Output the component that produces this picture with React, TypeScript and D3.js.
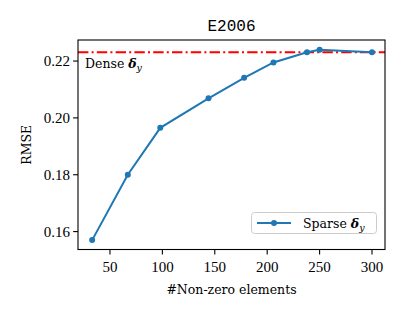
import * as d3 from "d3";

const sparseX = [33, 67, 98, 144, 178, 206, 238, 250, 300];
const sparseY = [0.157, 0.18, 0.1965, 0.2069, 0.2141, 0.2195, 0.2231, 0.224, 0.2231];
const denseY = 0.2231;
const xTicks = [50, 100, 150, 200, 250, 300];
const yTicks = [0.16, 0.18, 0.2, 0.22];

const W = 407;
const H = 314;
const margin = { top: 40, right: 22, bottom: 64.5, left: 78 };
const tickFont = "'Liberation Serif', serif";
const font = "'DejaVu Serif', serif";
const blue = "#1f77b4";

export default function App() {
  const x = d3.scaleLinear().domain([19.5, 312.4]).range([margin.left, W - margin.right]);
  const y = d3.scaleLinear().domain([0.1537, 0.2274]).range([H - margin.bottom, margin.top]);
  const pts = sparseX.map((v, i) => [v, sparseY[i]] as [number, number]);
  const line = d3.line<[number, number]>().x((d) => x(d[0])).y((d) => y(d[1]));
  const x0 = margin.left;
  const x1 = W - margin.right;
  const y0 = H - margin.bottom;
  const y1 = margin.top;

  return (
    <svg width={W} height={H} style={{ position: "absolute", left: 0, top: 0 }}>
      <rect width={W} height={H} fill="#fff" />
      <text x={(x0 + x1) / 2} y={31} textAnchor="middle" fontFamily="'Liberation Mono', monospace" fontSize={16}>
        E2006
      </text>
      {/* dense reference line */}
      <line x1={x0} x2={x1} y1={y(denseY)} y2={y(denseY)} stroke="#ff0000" strokeWidth={2} strokeDasharray="10.4,3.2,2,3.2" />
      <path d={line(pts) ?? ""} fill="none" stroke={blue} strokeWidth={2} />
      {pts.map((d, i) => (
        <circle key={i} cx={x(d[0])} cy={y(d[1])} r={3} fill={blue} />
      ))}
      <text x={85} y={68} fontFamily={font} fontSize={12.5}>
        Dense <tspan fontWeight="bold" fontStyle="italic">δ</tspan>
        <tspan fontStyle="italic" fontSize={9.5} dy={3}>y</tspan>
      </text>
      {/* frame */}
      <rect x={x0} y={y1} width={x1 - x0} height={y0 - y1} fill="none" stroke="#000" strokeWidth={1.1} />
      {xTicks.map((t) => (
        <g key={t}>
          <line x1={x(t)} x2={x(t)} y1={y0} y2={y0 + 4.9} stroke="#000" strokeWidth={1.1} />
          <text x={x(t)} y={y0 + 22} textAnchor="middle" fontFamily={tickFont} fontSize={15}>
            {t}
          </text>
        </g>
      ))}
      {yTicks.map((t) => (
        <g key={t}>
          <line x1={x0} x2={x0 - 4.9} y1={y(t)} y2={y(t)} stroke="#000" strokeWidth={1.1} />
          <text x={x0 - 8} y={y(t) + 5} textAnchor="end" fontFamily={tickFont} fontSize={15}>
            {t.toFixed(2)}
          </text>
        </g>
      ))}
      <text x={(x0 + x1) / 2} y={294} textAnchor="middle" fontFamily={font} fontSize={12.5}>
        #Non-zero elements
      </text>
      <text transform={`translate(31,${(y0 + y1) / 2}) rotate(-90)`} textAnchor="middle" fontFamily={font} fontSize={12.5}>
        RMSE
      </text>
      {/* legend */}
      <rect x={251.5} y={212.5} width={125} height={21} rx={3} fill="#fff" fillOpacity={0.8} stroke="#ccc" strokeWidth={1} />
      <line x1={257} x2={291} y1={223} y2={223} stroke={blue} strokeWidth={2} />
      <circle cx={274} cy={223} r={3} fill={blue} />
      <text x={303} y={227.5} fontFamily={font} fontSize={12.5}>
        Sparse <tspan fontWeight="bold" fontStyle="italic">δ</tspan>
        <tspan fontStyle="italic" fontSize={9.5} dy={3}>y</tspan>
      </text>
    </svg>
  );
}
